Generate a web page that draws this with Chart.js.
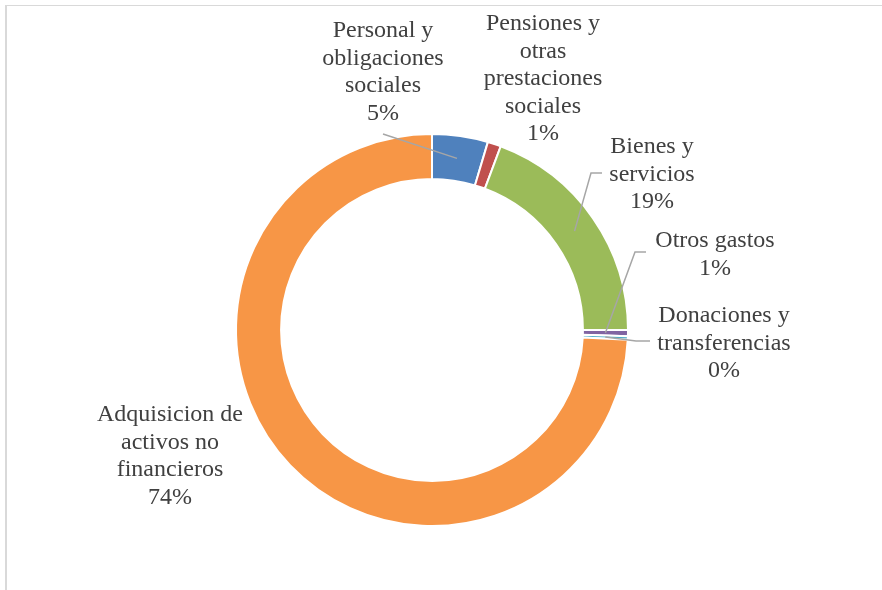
<!DOCTYPE html>
<html>
<head>
<meta charset="utf-8">
<script src="https://cdn.jsdelivr.net/npm/chart.js@4"></script>
<style>
    html, body { margin: 0; padding: 0; background: #fff; }
    #wrap { position: relative; width: 882px; height: 590px; }
    #frame { position: absolute; left: 5px; top: 5px; right: 0; bottom: 0;
             border-top: 1px solid #d9d9d9; border-left: 2px solid #d9d9d9; }
    canvas { position: absolute; left: 0; top: 0; }
</style>
</head>
<body>
<div id="wrap">
    <div id="frame"></div>
    <canvas id="gastosChart" width="882" height="590"></canvas>
</div>
<script>
// ===== DATA =====
const categories = [
    'Personal y obligaciones sociales',
    'Pensiones y otras prestaciones sociales',
    'Bienes y servicios',
    'Otros gastos',
    'Donaciones y transferencias',
    'Adquisicion de activos no financieros'
];
const shares = [4.6, 1.1, 19.3, 0.5, 0.3, 74.2];
const shareLabels = ['5%', '1%', '19%', '1%', '0%', '74%'];
const sliceColors = ['#4F81BD', '#C0504D', '#9BBB59', '#8064A2', '#4BACC6', '#F79646'];

// label text lines (category broken as in the original)
const labelLines = [
    ['Personal y', 'obligaciones', 'sociales'],
    ['Pensiones y', 'otras', 'prestaciones', 'sociales'],
    ['Bienes y', 'servicios'],
    ['Otros gastos'],
    ['Donaciones y', 'transferencias'],
    ['Adquisicion de', 'activos no', 'financieros']
];

// label layout: centre x, first line y, and leader line points (null = none)
const labelLayout = [
    { x: 383, y: 31, leader: [[383, 134]] },
    { x: 543, y: 24, leader: null },
    { x: 652, y: 147, leader: [[602, 173], [591, 173]] },
    { x: 715, y: 241, leader: [[646, 252], [635, 252]] },
    { x: 724, y: 316, leader: [[650, 341], [636, 341]] },
    { x: 170, y: 415, leader: null }
];

const LINE_H = 27.5;

const labelPlugin = {
    id: 'outerLabels',
    afterDraw(chart) {
        const ctx = chart.ctx;
        const meta = chart.getDatasetMeta(0);
        ctx.save();
        ctx.font = '24px "Liberation Serif", "Times New Roman", serif';
        ctx.fillStyle = '#404040';
        ctx.textAlign = 'center';
        ctx.textBaseline = 'middle';

        labelLayout.forEach((lay, i) => {
            const lines = labelLines[i].concat([shareLabels[i]]);
            lines.forEach((t, k) => ctx.fillText(t, lay.x, lay.y + k * LINE_H));

            if (!lay.leader) return;
            const arc = meta.data[i];
            const mid = (arc.startAngle + arc.endAngle) / 2;
            const r = (arc.innerRadius + arc.outerRadius) / 2;
            const ax = arc.x + Math.cos(mid) * r;
            const ay = arc.y + Math.sin(mid) * r;

            ctx.beginPath();
            ctx.strokeStyle = '#a6a6a6';
            ctx.lineWidth = 1.5;
            ctx.moveTo(lay.leader[0][0], lay.leader[0][1]);
            for (let k = 1; k < lay.leader.length; k++) {
                ctx.lineTo(lay.leader[k][0], lay.leader[k][1]);
            }
            ctx.lineTo(ax, ay);
            ctx.stroke();
        });
        ctx.restore();
    }
};

const ctx = document.getElementById('gastosChart').getContext('2d');
new Chart(ctx, {
    type: 'doughnut',
    data: {
        labels: categories,
        datasets: [{
            data: shares,
            backgroundColor: sliceColors,
            borderColor: '#ffffff',
            borderWidth: 2
        }]
    },
    options: {
        responsive: false,
        animation: false,
        cutout: '77%',
        layout: { padding: { top: 133, bottom: 63, left: 235, right: 253 } },
        plugins: {
            legend: { display: false },
            tooltip: { enabled: false }
        }
    },
    plugins: [labelPlugin]
});
</script>
</body>
</html>
